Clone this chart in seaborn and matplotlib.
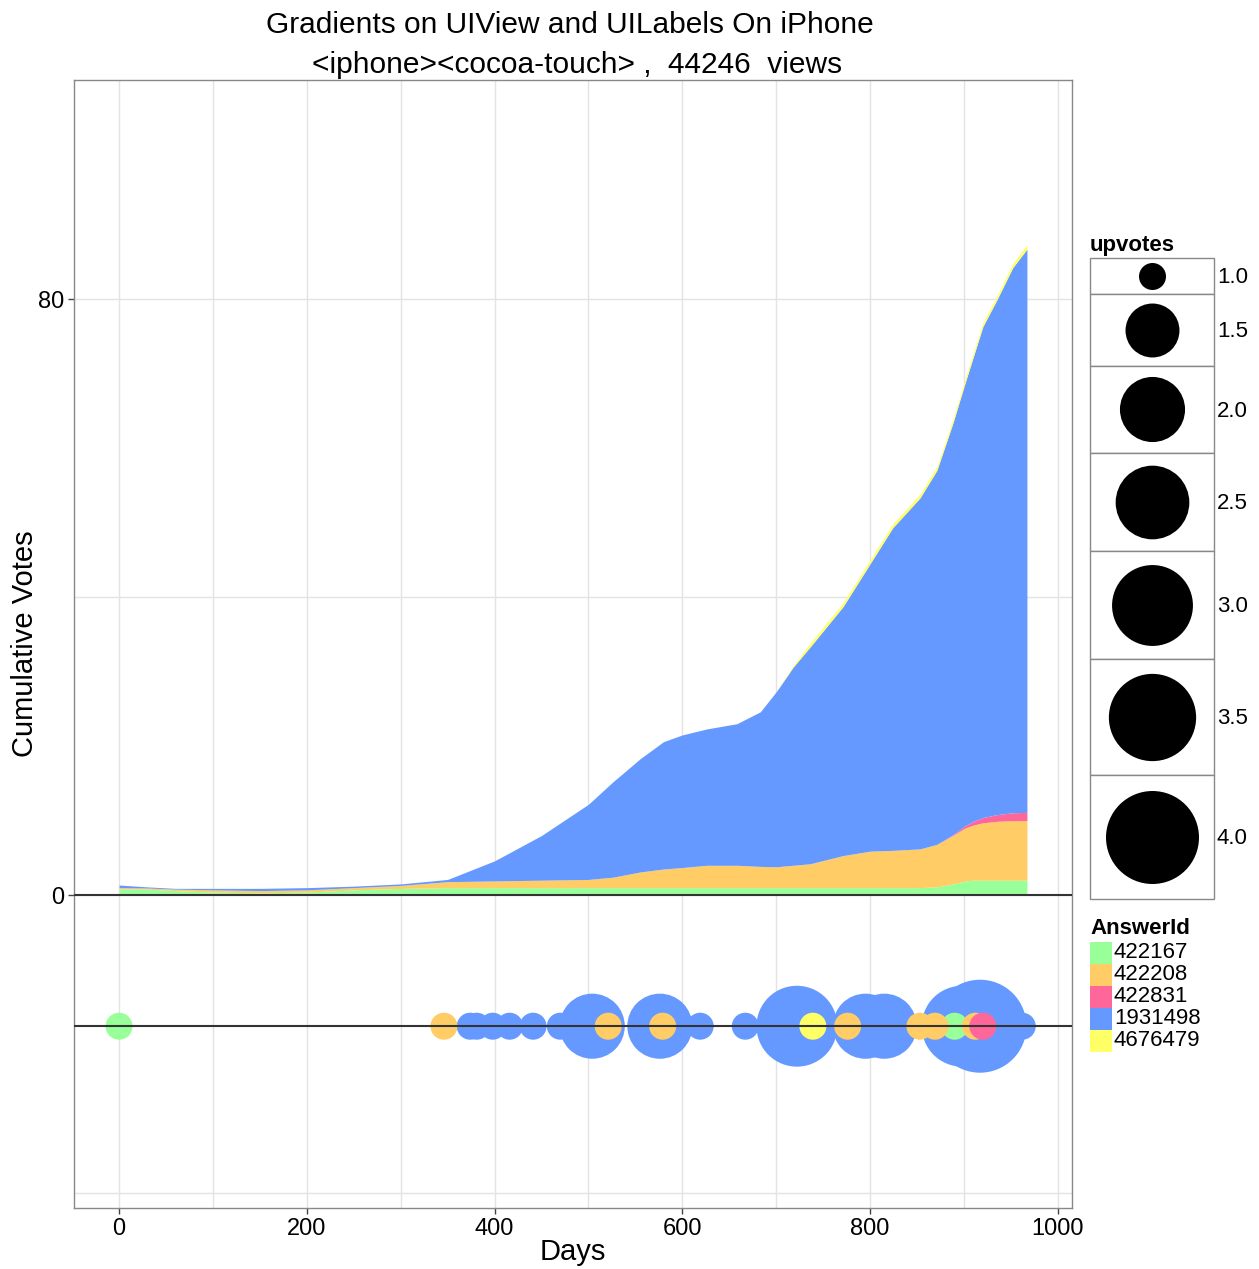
import numpy as np
import pandas as pd
import matplotlib
matplotlib.use("Agg")
import matplotlib.pyplot as plt
from matplotlib.patches import Rectangle
import seaborn as sns

# cumulative votes per answer (stacked layers)
days = [0, 30, 60, 100, 150, 200, 250, 300, 350, 400, 450, 500, 526, 555, 580, 600, 626,
        658, 683, 700, 718, 736, 771, 800, 824, 853, 871, 888, 901, 910, 920, 935, 952, 967]
votes_422167 = [0.8, 0.8, 0.6, 0.4, 0.3, 0.4, 0.7, 0.9, 1.0, 1.0, 1.0, 1.0, 1.0, 1.0, 1.0, 1.0, 1.0,
                1.0, 1.0, 1.0, 1.0, 1.0, 1.0, 1.0, 1.0, 1.0, 1.1, 1.5, 1.9, 2.0, 2.0, 2.0, 2.0, 2.0]
votes_422208 = [0.2, 0.15, 0.2, 0.3, 0.3, 0.3, 0.3, 0.4, 0.8, 0.9, 1.0, 1.1, 1.4, 2.1, 2.5, 2.7, 3.0,
                3.0, 2.85, 2.8, 3.0, 3.2, 4.3, 4.9, 5.0, 5.2, 5.7, 6.5, 7.1, 7.4, 7.7, 7.9, 8.0, 8.0]
votes_422831 = [0, 0, 0, 0, 0, 0, 0, 0, 0, 0, 0, 0, 0, 0, 0, 0, 0,
                0, 0, 0, 0, 0, 0, 0, 0, 0, 0, 0.1, 0.3, 0.5, 0.7, 0.9, 1.05, 1.1]
votes_1931498 = [0.35, 0.15, 0.1, 0.2, 0.3, 0.3, 0.2, 0.2, 0.3, 2.7, 6.0, 10.1, 12.8, 15.2, 17.1, 17.8, 18.3,
                 19.0, 20.75, 23.5, 26.6, 29.1, 33.4, 38.6, 43.3, 47.1, 50.2, 55.2, 59.4, 62.4, 65.9, 69.1, 73.2, 75.6]
votes_4676479 = [0, 0, 0, 0, 0, 0, 0, 0, 0, 0, 0, 0, 0, 0, 0, 0, 0,
                 0, 0, 0, 0.2, 0.5, 0.5, 0.5, 0.5, 0.5, 0.5, 0.5, 0.5, 0.5, 0.5, 0.5, 0.55, 0.6]

answer_ids = ["422167", "422208", "422831", "1931498", "4676479"]
answer_colors = ["#99FF99", "#FFCC66", "#FF6699", "#6699FF", "#FFFF66"]

# individual voting events (bubbles)
vote_days = [374, 381, 398, 416, 441, 470, 504, 576, 619, 667, 722, 795, 815, 898, 917, 962,
             0, 890, 346, 521, 579, 776, 853, 869, 912, 920, 739]
vote_answer = ["1931498"] * 16 + ["422167", "422167"] + ["422208"] * 7 + ["422831", "4676479"]
vote_upvotes = [1, 1, 1, 1, 1, 1, 2, 2, 1, 1, 3, 2, 2, 3, 4, 1,
                1, 1, 1, 1, 1, 1, 1, 1, 1, 1, 1]
size_breaks = [1.0, 1.5, 2.0, 2.5, 3.0, 3.5, 4.0]

bubble_row = -17.6


def marker_area(v):
    d_px = 27 + 66 * np.sqrt((v - 1) / 3)
    return (d_px * 72 / 100) ** 2


sns.set_style("white")
plt.rcParams["font.family"] = ["Liberation Sans", "DejaVu Sans"]
plt.rcParams["text.color"] = "black"
plt.rcParams["axes.labelcolor"] = "black"

fig = plt.figure(figsize=(12.59, 12.69), dpi=100)
ax = fig.add_axes([74 / 1259, 1 - 1208 / 1269, (1072 - 74) / 1259, (1208 - 80) / 1269])

ax.stackplot(days, votes_422167, votes_422208, votes_422831, votes_1931498, votes_4676479,
             colors=answer_colors, linewidth=0, zorder=2)

votes_df = pd.DataFrame({"Days": vote_days, "AnswerId": vote_answer, "upvotes": vote_upvotes})
votes_df["row"] = bubble_row
votes_df["front"] = votes_df["AnswerId"] != "1931498"
votes_df = votes_df.sort_values("front", kind="stable")
sns.scatterplot(data=votes_df, x="Days", y="row", hue="AnswerId", hue_order=answer_ids,
                palette=dict(zip(answer_ids, answer_colors)), size="upvotes",
                sizes={v: marker_area(v) for v in set(vote_upvotes)},
                linewidth=0, alpha=1, legend=False, ax=ax, zorder=3)

ax.axhline(0, color="#333333", lw=1.5, zorder=4)
ax.axhline(bubble_row, color="#333333", lw=1.5, zorder=4)

ax.set_xlim(-48, 1015)
ax.set_ylim(-42, 109.4)
ax.set_xticks([0, 200, 400, 600, 800, 1000])
ax.set_xticks([100, 300, 500, 700, 900], minor=True)
ax.set_yticks([0, 80])
ax.set_yticks([-40, 40], minor=True)
ax.grid(which="both", color="#e3e3e3", lw=1, zorder=0)
ax.set_axisbelow(True)
ax.tick_params(which="major", direction="out", length=4, width=1, color="#444444",
               labelsize=17, labelcolor="black", pad=3, left=True, bottom=True)
ax.tick_params(which="minor", length=0)
for sp in ax.spines.values():
    sp.set_color("#888888")
    sp.set_linewidth(1)
ax.set_xlabel("")
ax.set_ylabel("")

fig.text(573 / 1259, 1 - 1252 / 1269, "Days", fontsize=21, ha="center", va="center")
fig.text(25 / 1259, 1 - 644 / 1269, "Cumulative Votes", fontsize=21, ha="center", va="center",
         rotation=90)
fig.text(570 / 1259, 1 - 25 / 1269, "Gradients on UIView and UILabels On iPhone",
         fontsize=21.5, ha="center", va="center")
fig.text(577 / 1259, 1 - 65 / 1269, "<iphone><cocoa-touch> ,  44246  views",
         fontsize=21.5, ha="center", va="center")

# legends drawn in pixel space
lax = fig.add_axes([0, 0, 1, 1])
lax.set_xlim(0, 1259)
lax.set_ylim(1269, 0)
lax.axis("off")

lax.text(1090, 246, "upvotes", fontsize=16, fontweight="bold", ha="left", va="center")
top = 258
for v in size_breaks:
    d_px = 27 + 66 * np.sqrt((v - 1) / 3)
    h = d_px * 1.333
    lax.add_patch(Rectangle((1090, top), 124, h, facecolor="white", edgecolor="#888888", lw=1))
    lax.scatter([1152], [top + h / 2], s=marker_area(v), color="black", linewidth=0)
    lax.text(1217, top + h / 2 + 2, f"{v:.1f}", fontsize=16, ha="left", va="center")
    top += h

lax.text(1090, 929, "AnswerId", fontsize=16, fontweight="bold", ha="left", va="center")
for i, (aid, col) in enumerate(zip(answer_ids, answer_colors)):
    y0 = 942 + i * 22
    lax.add_patch(Rectangle((1090, y0), 22, 22, facecolor=col, edgecolor="none"))
    lax.text(1114, y0 + 11, aid, fontsize=16, ha="left", va="center")

fig.savefig("out.png", dpi=100)
